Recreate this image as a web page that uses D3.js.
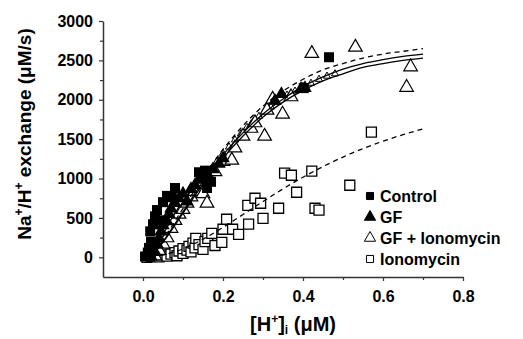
<!DOCTYPE html>
<html>
<head>
<meta charset="utf-8">
<script src="https://cdn.jsdelivr.net/npm/d3@7"></script>
<style>
  body { margin: 0; background: #fff; }
  svg text { font-family: Arial, "Liberation Sans", sans-serif; font-weight: bold; fill: #000; }
</style>
</head>
<body>
<svg id="chart" width="523" height="339"></svg>
<script>
// data: [H+]i (uM), exchange (uM/s)
const control = [[0.005,10],[0.012,60],[0.015,120],[0.02,200],[0.018,330],[0.025,420],[0.03,520],[0.035,600],
  [0.042,470],[0.05,700],[0.06,780],[0.072,763],[0.08,880],[0.14,1080],[0.15,1000],[0.155,1100],[0.16,880],
  [0.17,960],[0.402,2148],[0.465,2540]];
const gf = [[0.02,20],[0.03,80],[0.035,180],[0.04,250],[0.045,340],[0.05,420],[0.06,470],[0.065,560],[0.07,630],
  [0.08,700],[0.09,760],[0.1,820],[0.11,720],[0.12,880],[0.13,930],[0.14,1000],[0.15,1030],[0.16,1080],
  [0.165,960],[0.175,1130],[0.19,1200],[0.2,1270],[0.33,2000],[0.346,2085],[0.395,2150],[0.405,2160]];
const gfIono = [[0.03,30],[0.04,100],[0.05,180],[0.06,260],[0.07,380],[0.08,480],[0.09,560],[0.1,620],[0.11,700],
  [0.12,780],[0.13,850],[0.15,820],[0.16,700],[0.18,1100],[0.2,1230],[0.222,1245],[0.23,1400],[0.25,1550],
  [0.27,1650],[0.28,1720],[0.304,1550],[0.31,1880],[0.324,2020],[0.349,1830],[0.37,2050],[0.422,2600],
  [0.531,2680],[0.659,2170],[0.669,2430]];
// the dense run of small open triangles along the fits
const gfIonoTrace = [[0.17,1120],[0.185,1220],[0.2,1320],[0.215,1400],[0.23,1490],[0.245,1570],[0.26,1650],
  [0.275,1720],[0.29,1790],[0.305,1860],[0.32,1910],[0.335,1970],[0.36,2060],[0.38,2110],[0.4,2170],
  [0.42,2210],[0.44,2260],[0.46,2300],[0.48,2330]];
const iono = [[0.01,0],[0.02,10],[0.03,20],[0.04,5],[0.05,30],[0.06,15],[0.07,40],[0.08,60],[0.085,20],[0.09,80],
  [0.1,50],[0.1,110],[0.11,90],[0.115,140],[0.12,70],[0.125,180],[0.13,120],[0.132,241],[0.14,160],[0.15,100],
  [0.155,200],[0.162,241],[0.172,305],[0.18,150],[0.197,190],[0.2,356],[0.209,483],[0.224,356],[0.239,292],
  [0.262,660],[0.264,420],[0.28,750],[0.294,686],[0.3,495],[0.339,623],[0.354,1068],[0.371,1042],[0.384,826],
  [0.422,1093],[0.43,623],[0.44,600],[0.517,915],[0.571,1590]];

// fitted curves, read at these x values
const fitX = [0.02,0.05,0.1,0.15,0.2,0.25,0.3,0.35,0.4,0.45,0.5,0.55,0.6,0.65,0.7];
const fitControl = [0,190,560,930,1260,1540,1780,1970,2120,2240,2330,2410,2460,2500,2530];
const fitGF = [0,200,580,960,1300,1580,1820,2010,2170,2290,2390,2460,2510,2550,2580];
const fitGFIono = [0,220,620,1010,1370,1670,1920,2110,2260,2380,2460,2530,2580,2615,2650];
const fitIono = [0,28,108,230,380,543,708,869,1017,1152,1273,1380,1474,1557,1630];

const xTicks = [0, 0.2, 0.4, 0.6, 0.8];
const xMinor = [0.1, 0.3, 0.5, 0.7];
const yTicks = [0, 500, 1000, 1500, 2000, 2500, 3000];
const yMinor = [250, 750, 1250, 1750, 2250, 2750];
const legendNames = ['Control', 'GF', 'GF + Ionomycin', 'Ionomycin'];

const svg = d3.select('#chart');
const x = d3.scaleLinear().domain([-0.1, 0.8]).range([103, 463]);
const y = d3.scaleLinear().domain([-250, 3000]).range([277, 21]);

// axes
const axisColor = '#333';
const gx = svg.append('g').attr('transform', 'translate(0,277)')
  .call(d3.axisBottom(x).tickValues(xTicks).tickFormat(d3.format('.1f')).tickSize(4).tickSizeOuter(0));
svg.append('g').attr('transform', 'translate(0,277)')
  .call(d3.axisBottom(x).tickValues(xMinor).tickFormat('').tickSize(3).tickSizeOuter(0))
  .select('.domain').remove();
const gy = svg.append('g').attr('transform', 'translate(103,0)')
  .call(d3.axisLeft(y).tickValues(yTicks).tickFormat(d3.format('d')).tickSize(4).tickSizeOuter(0));
svg.append('g').attr('transform', 'translate(103,0)')
  .call(d3.axisLeft(y).tickValues(yMinor).tickFormat('').tickSize(3).tickSizeOuter(0))
  .select('.domain').remove();
svg.selectAll('.domain').attr('stroke', axisColor).attr('stroke-width', 1.5);
svg.selectAll('.tick line').attr('stroke', axisColor).attr('stroke-width', 1.2);
gx.selectAll('text').style('font-size', '16px').attr('y', 14);
gy.selectAll('text').style('font-size', '16px').attr('x', -10);

// markers
const sq = d3.symbol().type(d3.symbolSquare);
const tri = d3.symbol().type(d3.symbolTriangle);

svg.append('g').selectAll('path').data(iono).enter().append('path')
  .attr('d', sq.size(100)())
  .attr('transform', d => `translate(${x(d[0])},${y(d[1])})`)
  .attr('fill', '#fff').attr('stroke', '#000').attr('stroke-width', 1.3);

svg.append('g').selectAll('path').data(gfIonoTrace).enter().append('path')
  .attr('d', tri.size(22)())
  .attr('transform', d => `translate(${x(d[0])},${y(d[1])})`)
  .attr('fill', '#fff').attr('stroke', '#000').attr('stroke-width', 1);

svg.append('g').selectAll('path').data(gfIono).enter().append('path')
  .attr('d', tri.size(80)())
  .attr('transform', d => `translate(${x(d[0])},${y(d[1]) + 1})`)
  .attr('fill', '#fff').attr('stroke', '#000').attr('stroke-width', 1.2);

svg.append('g').selectAll('path').data(gf).enter().append('path')
  .attr('d', tri.size(80)())
  .attr('transform', d => `translate(${x(d[0])},${y(d[1]) + 1})`)
  .attr('fill', '#000');

svg.append('g').selectAll('path').data(control).enter().append('path')
  .attr('d', sq.size(100)())
  .attr('transform', d => `translate(${x(d[0])},${y(d[1])})`)
  .attr('fill', '#000');

// fit lines
const line = d3.line().x(d => x(d[0])).y(d => y(d[1])).curve(d3.curveMonotoneX);
const fits = [
  { v: fitControl, dash: null },
  { v: fitGF, dash: null },
  { v: fitGFIono, dash: '5,4' },
  { v: fitIono, dash: '5,4' }
];
fits.forEach(f => {
  svg.append('path')
    .datum(fitX.map((xv, i) => [xv, f.v[i]]))
    .attr('d', line)
    .attr('fill', 'none').attr('stroke', '#000').attr('stroke-width', 1.3)
    .attr('stroke-dasharray', f.dash);
});

// legend
const lg = svg.append('g').attr('transform', 'translate(370,196)');
const legendMarks = [
  { sym: sq.size(50)(), fill: '#000' },
  { sym: tri.size(55)(), fill: '#000' },
  { sym: tri.size(55)(), fill: '#fff' },
  { sym: sq.size(50)(), fill: '#fff' }
];
legendNames.forEach((name, i) => {
  const row = lg.append('g').attr('transform', `translate(0,${i * 21})`);
  row.append('path').attr('d', legendMarks[i].sym)
    .attr('fill', legendMarks[i].fill).attr('stroke', '#000').attr('stroke-width', 1);
  row.append('text').attr('x', 10).attr('y', 6).style('font-size', '16px').text(name);
});

// axis titles
const yl = svg.append('text')
  .attr('transform', 'translate(31,134) rotate(-90)')
  .attr('text-anchor', 'middle').style('font-size', '19px');
yl.append('tspan').text('Na');
yl.append('tspan').attr('dy', -8).style('font-size', '12px').text('+');
yl.append('tspan').attr('dy', 8).text('/H');
yl.append('tspan').attr('dy', -8).style('font-size', '12px').text('+');
yl.append('tspan').attr('dy', 8).text(' exchange (\u03BCM/s)');

const xl = svg.append('text')
  .attr('x', 293).attr('y', 331)
  .attr('text-anchor', 'middle').style('font-size', '20px');
xl.append('tspan').text('[H');
xl.append('tspan').attr('dy', -8).style('font-size', '12px').text('+');
xl.append('tspan').attr('dy', 8).text(']');
xl.append('tspan').attr('dy', 3).style('font-size', '12px').text('i');
xl.append('tspan').attr('dy', -3).text(' (\u03BCM)');
</script>
</body>
</html>
